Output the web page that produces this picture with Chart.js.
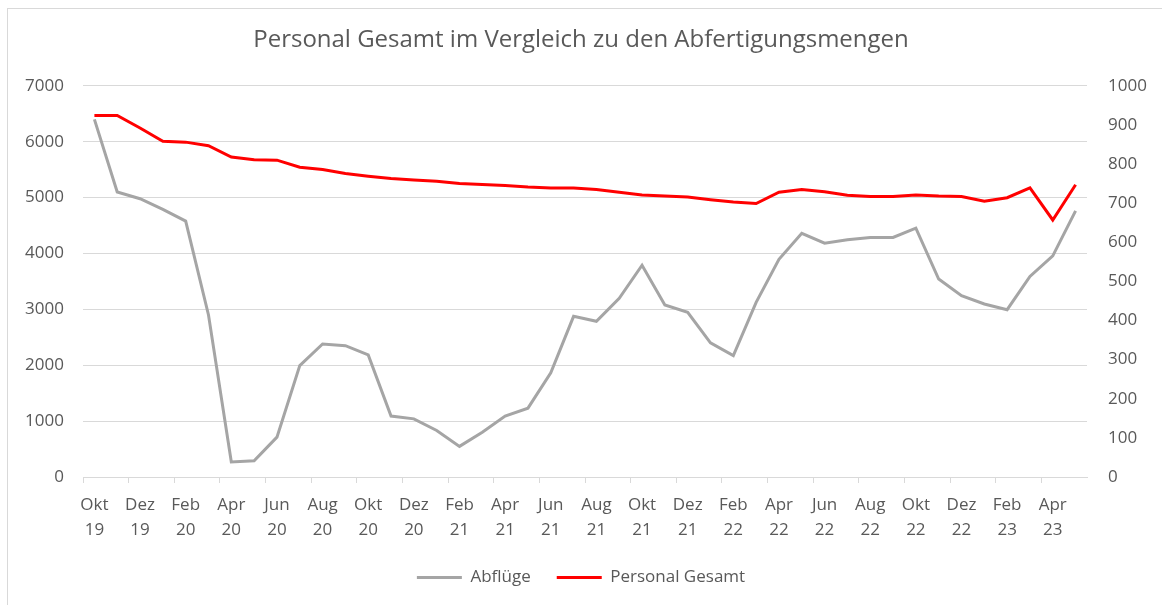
<!DOCTYPE html>
<html>
<head>
<meta charset="utf-8">
<script src="https://cdn.jsdelivr.net/npm/chart.js@4"></script>
<style>
  html, body { margin: 0; padding: 0; background: #fff; }
  #frame { position: absolute; left: 7px; top: 8px; width: 1200px; height: 700px; border: 1px solid #d9d9d9; }
  #wrap { position: absolute; left: 0; top: 0; width: 1162px; height: 605px; }
</style>
</head>
<body>
<div id="frame"></div>
<div id="wrap"><canvas id="chart"></canvas></div>
<script>
// --- Data ---
const months = ['Okt 19','Nov 19','Dez 19','Jan 20','Feb 20','Mär 20','Apr 20','Mai 20','Jun 20','Jul 20','Aug 20','Sep 20',
  'Okt 20','Nov 20','Dez 20','Jan 21','Feb 21','Mär 21','Apr 21','Mai 21','Jun 21','Jul 21','Aug 21','Sep 21',
  'Okt 21','Nov 21','Dez 21','Jan 22','Feb 22','Mär 22','Apr 22','Mai 22','Jun 22','Jul 22','Aug 22','Sep 22',
  'Okt 22','Nov 22','Dez 22','Jan 23','Feb 23','Mär 23','Apr 23','Mai 23'];
const abfluege = [6400, 5100, 4980, 4790, 4580, 2900, 270, 290, 714, 1994, 2380, 2350,
  2185, 1090, 1040, 833, 548, 800, 1090, 1232, 1863, 2875, 2786, 3196,
  3790, 3077, 2946, 2400, 2173, 3125, 3895, 4360, 4185, 4244, 4286, 4286,
  4452, 3542, 3244, 3095, 2994, 3589, 3958, 4762];
const personal = [924, 924, 892, 858, 856, 847, 818, 811, 810, 792, 786, 776,
  769, 763, 759, 756, 750, 748, 745, 741, 739, 739, 735, 728,
  721, 718, 716, 709, 703, 699, 728, 735, 729, 720, 717, 717,
  721, 718, 717, 705, 714, 739, 657, 747];

const textColor = '#595959';
const gridColor = '#d9d9d9';
const fontFamily = "'Open Sans', sans-serif";

new Chart(document.getElementById('chart'), {
  type: 'line',
  data: {
    labels: months,
    datasets: [
      { label: 'Abflüge', data: abfluege, yAxisID: 'y',
        borderColor: '#a5a5a5', backgroundColor: '#a5a5a5', borderWidth: 3,
        pointRadius: 0, tension: 0 },
      { label: 'Personal Gesamt', data: personal, yAxisID: 'y1',
        borderColor: '#ff0000', backgroundColor: '#ff0000', borderWidth: 3,
        pointRadius: 0, tension: 0 }
    ]
  },
  options: {
    responsive: true, maintainAspectRatio: false, animation: false,
    layout: { padding: { left: 10, right: 10, top: 26, bottom: 9 } },
    plugins: {
      title: { display: true, text: 'Personal Gesamt im Vergleich zu den Abfertigungsmengen',
        color: textColor, font: { family: fontFamily, size: 24, weight: 'normal', lineHeight: 1.2 },
        padding: { top: 0, bottom: 31 } },
      legend: { position: 'bottom',
        labels: { color: textColor, font: { family: fontFamily, size: 17 },
          boxWidth: 45, boxHeight: 0, padding: 26 } },
      tooltip: { enabled: false }
    },
    scales: {
      x: {
        offset: true,
        grid: { offset: true, drawOnChartArea: false, tickLength: 6,
          color: ctx => ctx.index % 2 === 0 ? gridColor : 'rgba(0,0,0,0)' },
        border: { color: gridColor },
        ticks: { autoSkip: false, maxRotation: 0, minRotation: 0, color: textColor,
          font: { family: fontFamily, size: 17, lineHeight: 1.5 }, padding: 9,
          callback: (v, i) => i % 2 === 0 ? months[i].split(' ') : '' },
        afterFit: s => { s.height = 66; }
      },
      y: {
        position: 'left', min: 0, max: 7000,
        grid: { color: gridColor, drawTicks: false },
        border: { display: false },
        ticks: { stepSize: 1000, color: textColor, font: { family: fontFamily, size: 17 }, padding: 19,
          callback: v => String(v) },
        afterFit: s => { s.width = 73; }
      },
      y1: {
        position: 'right', min: 0, max: 1000,
        grid: { drawOnChartArea: false, drawTicks: false },
        border: { display: false },
        ticks: { stepSize: 100, color: textColor, font: { family: fontFamily, size: 17 }, padding: 21,
          callback: v => String(v) },
        afterFit: s => { s.width = 65; }
      }
    }
  }
});
</script>
</body>
</html>
